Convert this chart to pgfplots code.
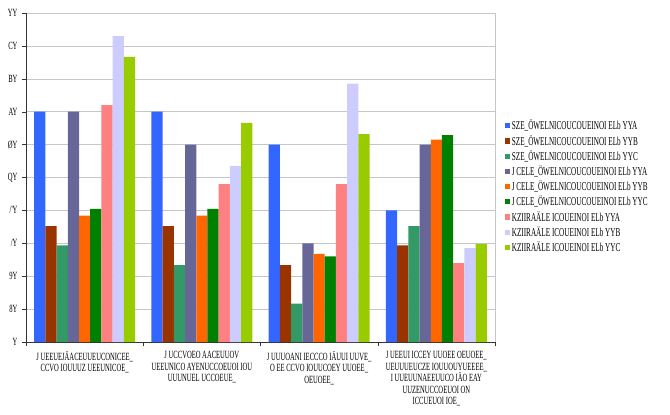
\documentclass[border=0pt]{standalone}
\usepackage{fontspec}
\usepackage{pgfplots}
\pgfplotsset{compat=1.18}
\newfontfamily\gf[FakeStretch=0.6]{Liberation Serif}

\definecolor{sA}{HTML}{3366FF}
\definecolor{sB}{HTML}{993300}
\definecolor{sC}{HTML}{339966}
\definecolor{sD}{HTML}{666699}
\definecolor{sE}{HTML}{FF6600}
\definecolor{sF}{HTML}{008000}
\definecolor{sG}{HTML}{FF8080}
\definecolor{sH}{HTML}{CCCCFF}
\definecolor{sI}{HTML}{99CC00}

\begin{document}
\begin{tikzpicture}
\begin{axis}[
  scale only axis,
  width=469pt, height=329pt,
  ybar=0pt, bar width=11.2pt,
  xmin=-0.5, xmax=3.5,
  ymin=0, ymax=100,
  axis lines*=left,
  axis line style={black!80, line width=0.6pt},
  ytick={0,10,...,100},
  yticklabels={Y,8Y,9Y,/Y,/'Y,QY,ØY,AY,BY,CY,YY},
  yticklabel style={font=\gf\fontsize{11}{11}\selectfont, xshift=-1pt},
  ymajorgrids,
  grid style={gray!45, line width=0.5pt},
  xtick={0,1,2,3},
  major x tick style={draw=none},
  minor xtick={-0.5,0.5,1.5,2.5,3.5},
  minor x tick style={black!80},
  minor tick length=4pt,
  major tick length=4pt,
  tick align=outside,
  y tick style={black!80},
  xticklabels={
    {J UEEUEJÄACEUUEUCONICEE\_\\CCVO IOUUUZ UEEUNICOE\_},
    {J UCCVOEO AACEUUOV\\UEEUNICO AYENUCCOEUOI IOU\\UUUNUEL UCCOEUE\_},
    {J UUUOANI IECCCO IÄUUI UUVE\_\\O EE CCVO IOUUCOEY UUOEE\_\\OEUOEE\_},
    {J UEEUI ICCEY UUOEE OEUOEE\_\\UEUUUEUCZE IOUUOUYUEEEE\_\\I UUEUUNAEEUUCO IÄO EAY\\UUZENUCCOEUOI ON\\ICCUEUOI IOE\_}},
  xticklabel style={font=\gf\fontsize{11}{11.5}\selectfont, align=center, yshift=-2pt},
  legend style={at={(1.018,0.684)}, anchor=north west, draw=none,
    font=\gf\fontsize{12}{12}\selectfont, cells={anchor=west},
    row sep=0pt, inner sep=1pt},
  legend image code/.code={\fill[#1,draw=none] (0pt,-2.6pt) rectangle (5.2pt,2.6pt);},
  after end axis/.code={\draw[gray!45, line width=0.5pt] (rel axis cs:1,0) -- (rel axis cs:1,1);},
]
\addplot[fill=sA, draw=none] coordinates {(0,70) (1,70) (2,60) (3,40)};
\addplot[fill=sB, draw=none] coordinates {(0,35.2) (1,35.2) (2,23.4) (3,29.4)};
\addplot[fill=sC, draw=none] coordinates {(0,29.4) (1,23.4) (2,11.7) (3,35.2)};
\addplot[fill=sD, draw=none] coordinates {(0,70) (1,60) (2,30) (3,60)};
\addplot[fill=sE, draw=none] coordinates {(0,38.4) (1,38.4) (2,26.8) (3,61.5)};
\addplot[fill=sF, draw=none] coordinates {(0,40.5) (1,40.5) (2,26) (3,62.9)};
\addplot[fill=sG, draw=none] coordinates {(0,72) (1,48) (2,48) (3,24)};
\addplot[fill=sH, draw=none] coordinates {(0,93) (1,53.5) (2,78.5) (3,28.5)};
\addplot[fill=sI, draw=none] coordinates {(0,86.7) (1,66.6) (2,63.2) (3,29.8)};
\legend{
  SZE\_ÖWELNICOUCOUEINOI ELb YYA,
  SZE\_ÖWELNICOUCOUEINOI ELb YYB,
  SZE\_ÖWELNICOUCOUEINOI ELb YYC,
  J CELE\_ÖWELNICOUCOUEINOI ELb YYA,
  J CELE\_ÖWELNICOUCOUEINOI ELb YYB,
  J CELE\_ÖWELNICOUCOUEINOI ELb YYC,
  KZIIRAÄLE ICOUEINOI ELb YYA,
  KZIIRAÄLE ICOUEINOI ELb YYB,
  KZIIRAÄLE ICOUEINOI ELb YYC}
\end{axis}
\pgfresetboundingbox
\path[use as bounding box] ([xshift=-26pt,yshift=-72pt]current axis.south west) rectangle ([xshift=175pt,yshift=13pt]current axis.north east);
\end{tikzpicture}
\end{document}
